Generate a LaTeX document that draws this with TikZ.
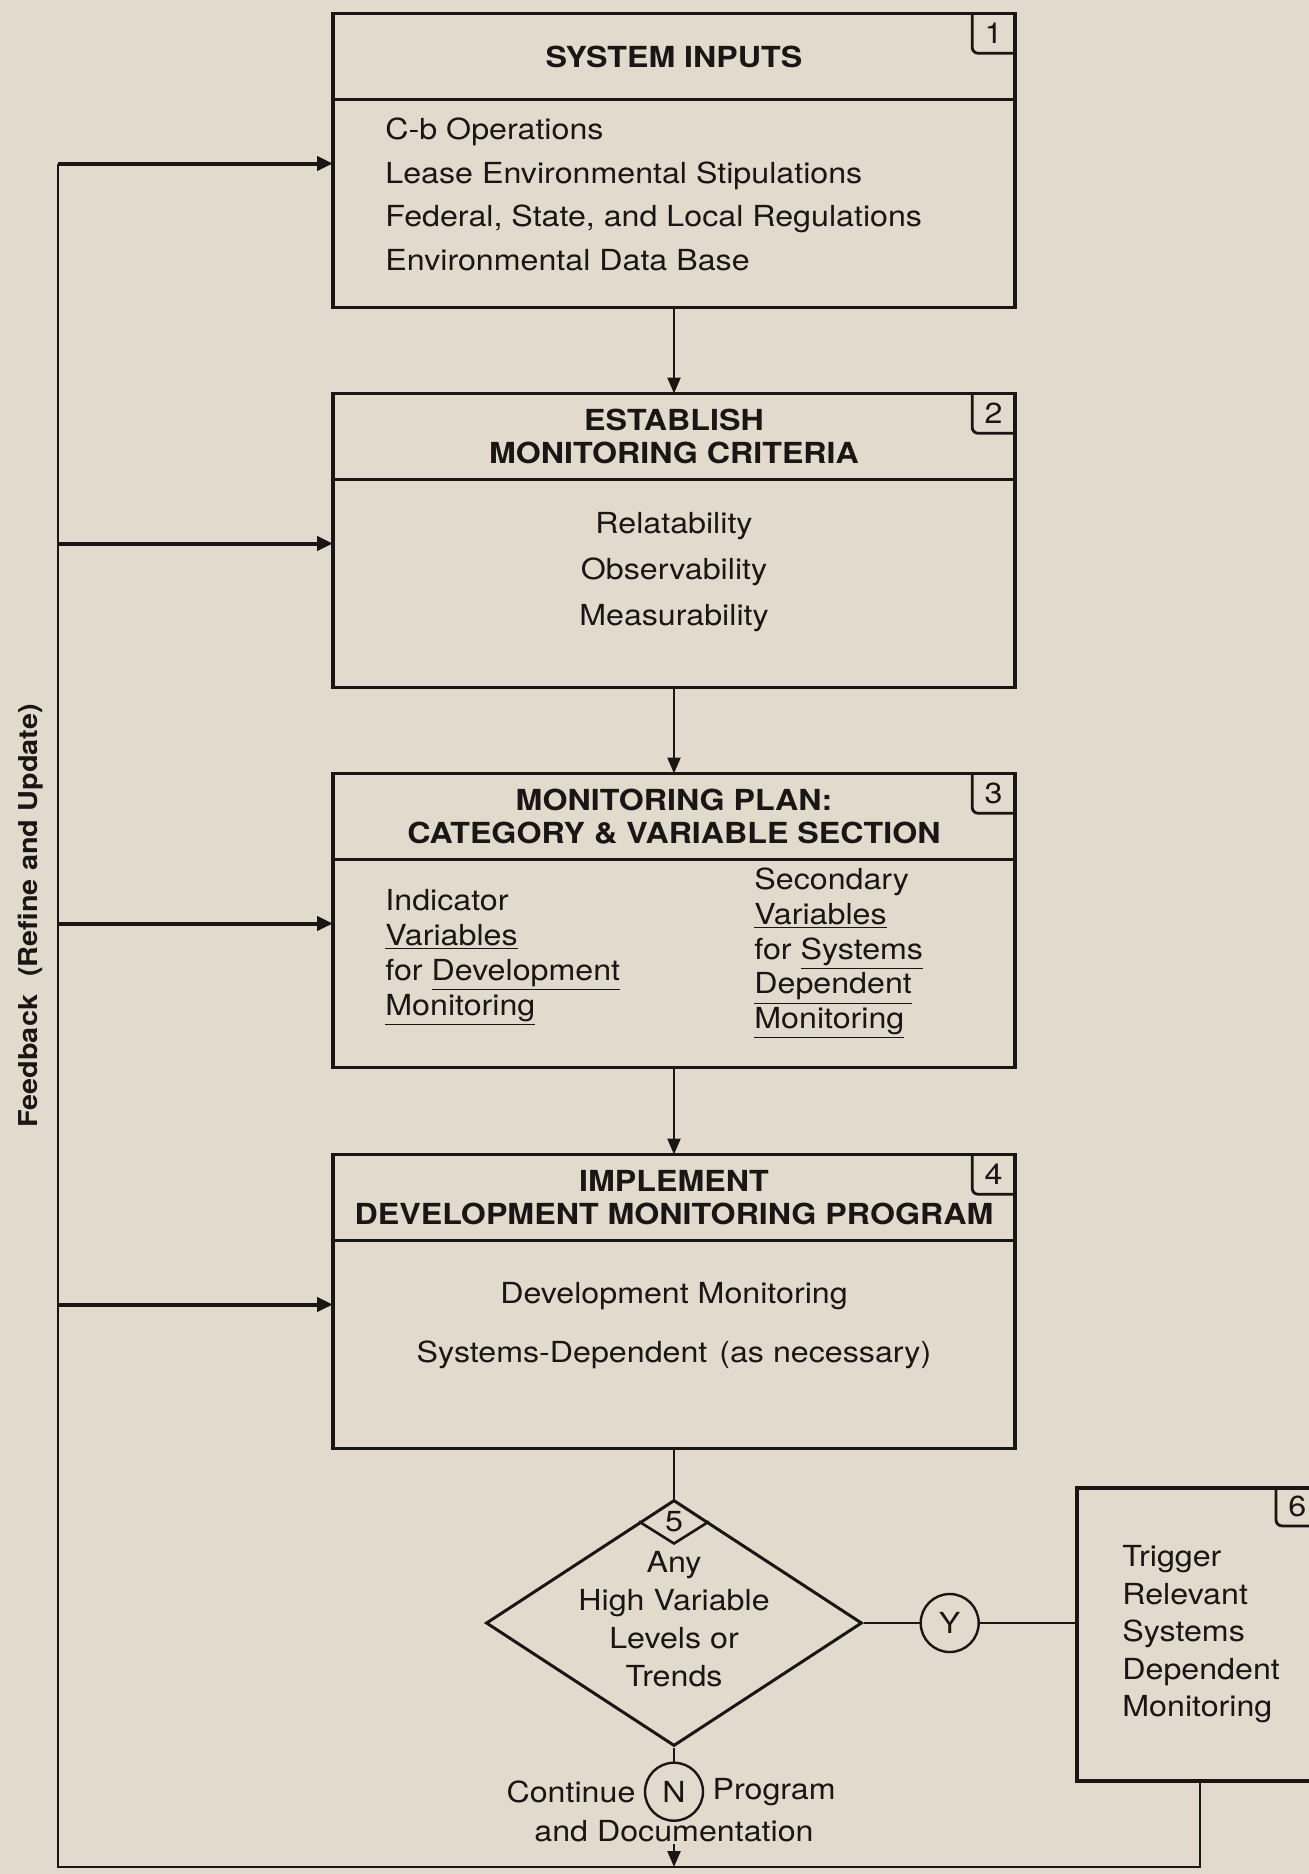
\documentclass[tikz,border=0pt]{standalone}
\usepackage{fontspec}
\setmainfont[FakeStretch=1.11]{TeX Gyre Heros}
\usetikzlibrary{arrows.meta,positioning,shapes.geometric}
\definecolor{paper}{RGB}{226,219,205}
\definecolor{ink}{RGB}{26,22,20}

\begin{document}
\begin{tikzpicture}[
  x=0.5pt, y=-0.5pt,
  color=ink,
  font=\fontsize{14.5}{17}\selectfont,
  headbox/.style={draw,line width=1.9pt,minimum width=341pt,minimum height=43pt,
                  inner sep=0pt,outer sep=0pt,align=center,
                  font=\fontsize{14.5}{16.5}\selectfont\bfseries},
  bodybox/.style={draw,line width=1.9pt,minimum width=341pt,minimum height=104pt,
                  inner sep=0pt,outer sep=0pt},
  tag/.style={minimum width=21pt,minimum height=19.5pt,inner sep=0pt},
  txt/.style={align=left,inner sep=0pt},
  yn/.style={draw,circle,line width=1.2pt,minimum size=29pt,inner sep=0pt},
  conn/.style={line width=1.2pt},
  arr/.style={-{Triangle[length=8pt,width=6.5pt]},line width=1.2pt},
  fbarr/.style={-{Triangle[length=8pt,width=7pt]},line width=2pt},
]
\useasboundingbox (0,0) rectangle (1309,1874);
\clip (0,0) rectangle (1309,1874);
\fill[paper] (0,0) rectangle (1309,1874);

% main column
\node[headbox] (hd1) at (674,56.5) {SYSTEM INPUTS};
\node[bodybox, below=0pt of hd1] (bd1) {};
\node[headbox, below=43pt of bd1] (hd2) {ESTABLISH\\MONITORING CRITERIA};
\node[bodybox, below=0pt of hd2] (bd2) {};
\node[headbox, below=43pt of bd2] (hd3) {MONITORING PLAN:\\CATEGORY \& VARIABLE SECTION};
\node[bodybox, below=0pt of hd3] (bd3) {};
\node[headbox, below=43.5pt of bd3] (hd4) {IMPLEMENT\\DEVELOPMENT MONITORING PROGRAM};
\node[bodybox, below=0pt of hd4] (bd4) {};

\node[txt, anchor=west, font=\fontsize{14.5}{21.75}\selectfont] (t1)
  at ([xshift=26pt,yshift=4.5pt]bd1.west)
  {C-b Operations\\Lease Environmental Stipulations\\
   Federal, State, and Local Regulations\\Environmental Data Base};
\node[txt, align=center, font=\fontsize{14.5}{23}\selectfont] (t2)
  at ([yshift=5.5pt]bd2.center) {Relatability\\Observability\\Measurability};
\node[txt, anchor=west, font=\fontsize{14.5}{17.5}\selectfont] (t3a)
  at ([xshift=26pt,yshift=3pt]bd3.west)
  {Indicator\\\underline{Variables}\\for \underline{Development}\\\underline{Monitoring}};
\node[txt, anchor=west, font=\fontsize{14.5}{17.3}\selectfont] (t3b)
  at ([xshift=210.5pt,yshift=5pt]bd3.west)
  {Secondary\\\underline{Variables}\\for \underline{Systems}\\\underline{Dependent}\\\underline{Monitoring}};
\node[txt, align=center, font=\fontsize{14.5}{29.5}\selectfont] (t4)
  at ([yshift=9.5pt]bd4.center)
  {Development Monitoring\\Systems-Dependent\hspace{6pt}(as necessary)};

% number tags
\foreach \i in {1,2,3,4}{
  \node[tag, anchor=north east] (n\i) at (hd\i.north east) {\i};
  \draw[line width=1.4pt, rounded corners=3pt] (n\i.north west) |- (n\i.south east);
}

% decision
\node[draw, diamond, line width=1.5pt, minimum width=188pt, minimum height=123pt,
      inner sep=0pt, below=25pt of bd4] (dia) {};
\node[inner sep=0pt] (n5) at ([yshift=-11.5pt]dia.north) {5};
\draw[line width=1.3pt] ([shift={(-35,23)}]dia.north) -- ([shift={(0,45)}]dia.north)
  -- ([shift={(35,23)}]dia.north);
\node[txt, align=center, font=\fontsize{14.5}{19}\selectfont] (t5)
  at ([yshift=2pt]dia.center) {Any\\High Variable\\Levels or\\Trends};

\node[yn, right=28pt of dia] (cy) {Y};
\node[yn, below=7pt of dia] (cn) {N};
\node[anchor=east, inner sep=0pt] (tc) at ([xshift=-4pt]cn.west) {Continue};
\node[anchor=west, inner sep=0pt] (tp) at ([xshift=4pt]cn.east) {Program};
\node[anchor=north, inner sep=0pt] (td) at ([yshift=1pt]cn.south) {and Documentation};

% box 6
\node[draw, line width=1.9pt, minimum width=120pt, minimum height=146.5pt,
      inner sep=0pt, anchor=west] (bx6) at (1075,1634.5) {};
\node[tag, anchor=north east] (n6) at (bx6.north east) {6};
\draw[line width=1.4pt, rounded corners=3pt] (n6.north west) |- (n6.south east);
\node[txt, anchor=west, font=\fontsize{14.5}{18.75}\selectfont] (t6)
  at ([xshift=23.5pt]bx6.west) {Trigger\\Relevant\\Systems\\Dependent\\Monitoring};

% feedback label
\node[rotate=90, inner sep=0pt, font=\fontsize{13}{15}\selectfont\bfseries] (fb)
  at (31,916) {Feedback\hspace{9pt}(Refine and Update)};

% connectors
\draw[arr] (bd1) -- (hd2);
\draw[arr] (bd2) -- (hd3);
\draw[arr] (bd3) -- (hd4);
\draw[conn] (bd4) -- (dia);
\draw[conn] (dia) -- (cy);
\draw[conn] (cy) -- (cy -| bx6.west);
\draw[conn] (dia) -- (cn);

\coordinate (fbl) at (58,1867);
\coordinate (fbr) at (1200,1867);
\foreach \i in {1,2,3,4}{
  \coordinate (in\i) at ([yshift=20pt]bd\i.west);
}
\draw[line width=1.3pt] (bx6.south -| fbr) -- (fbr) -- (fbl) -- (fbl |- in1);
\foreach \i in {1,2,3,4}{
  \draw[fbarr] (fbl |- in\i) -- (in\i);
}
\draw[arr] ([yshift=-1pt]td.south -| cn) -- (cn |- fbl);
\end{tikzpicture}
\end{document}
